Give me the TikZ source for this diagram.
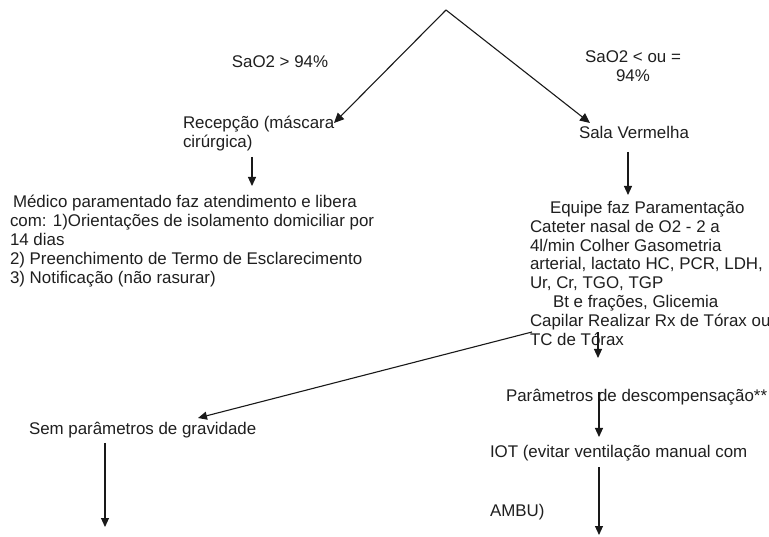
\documentclass[tikz,border=0pt]{standalone}
\usepackage{fontspec}
\setmainfont{Liberation Sans}
\usetikzlibrary{arrows.meta}
\tikzset{
  txt/.style={inner sep=0pt, outer sep=0pt, font=\fontsize{16.9}{18.9}\selectfont, text=black!88},
  blk/.style={txt, align=left, anchor=north west},
  arr/.style={line width=1.1pt, draw=black!90, -{Triangle[length=9pt,width=8pt]}}
}
\begin{document}
\begin{tikzpicture}[x=1pt,y=-1pt]
\useasboundingbox (0,0) rectangle (769,537);
\fill[white] (0,0) rectangle (769,537);
% nodes
\coordinate (top) at (446,10);
\node[txt] (sa1) at (280,62) {SaO2 > 94\%};
\node[txt, align=center] (sa2) at (633,66) {SaO2 < ou =\\94\%};
\node[blk] (recep) at (183,116) {Recepção (máscara\\cirúrgica)};
\node[txt, anchor=west] (sala) at (579,132) {Sala Vermelha};
\node[blk] (medico) at (10,195) {\hspace{3pt}Médico paramentado faz atendimento e libera\\com: 1)Orientações de isolamento domiciliar por\\14 dias\\2) Preenchimento de Termo de Esclarecimento\\3) Notificação (não rasurar)};
\node[blk] (equipe) at (530,201) {\hspace{20pt}Equipe faz Paramentação\\Cateter nasal de O2 - 2 a\\4l/min Colher Gasometria\\arterial, lactato HC, PCR, LDH,\\Ur, Cr, TGO, TGP\\\hspace{23pt}Bt e frações, Glicemia\\Capilar Realizar Rx de Tórax ou\\TC de Tórax};
\node[txt, anchor=west] (param) at (506,397) {Parâmetros de descompensação**};
\node[txt, anchor=west] (sem) at (29,430) {Sem parâmetros de gravidade};
\node[txt, anchor=west] (iot) at (490,453) {IOT (evitar ventilação manual com};
\node[txt, anchor=west] (ambu) at (490,512) {AMBU)};
\coordinate (endL) at (105,527);
\coordinate (endR) at (599,535);
% connectors
\draw[arr, -{Triangle[length=10pt,width=9pt]}] (top) -- ([shift={(151,7)}]recep.north west);
\draw[arr, -{Triangle[length=10pt,width=9pt]}] (top) -- ([shift={(11,-9)}]sala.west);
\draw[arr] ([shift={(69,41)}]recep.north west) -- ([shift={(242,-9)}]medico.north west);
\draw[arr] ([shift={(49,20)}]sala.west) -- ([shift={(98,-6)}]equipe.north west);
\draw[arr] ([shift={(68,131)}]equipe.north west) -- ([shift={(92,-39)}]param.west);
\draw[arr] ([shift={(2,131)}]equipe.north west) -- ([shift={(169,-12)}]sem.west);
\draw[arr] ([shift={(93,-5)}]param.west) -- ([shift={(109,-16)}]iot.west);
\draw[arr] ([shift={(109,14)}]iot.west) -- (endR);
\draw[arr] ([shift={(76,13)}]sem.west) -- (endL);
\end{tikzpicture}
\end{document}
